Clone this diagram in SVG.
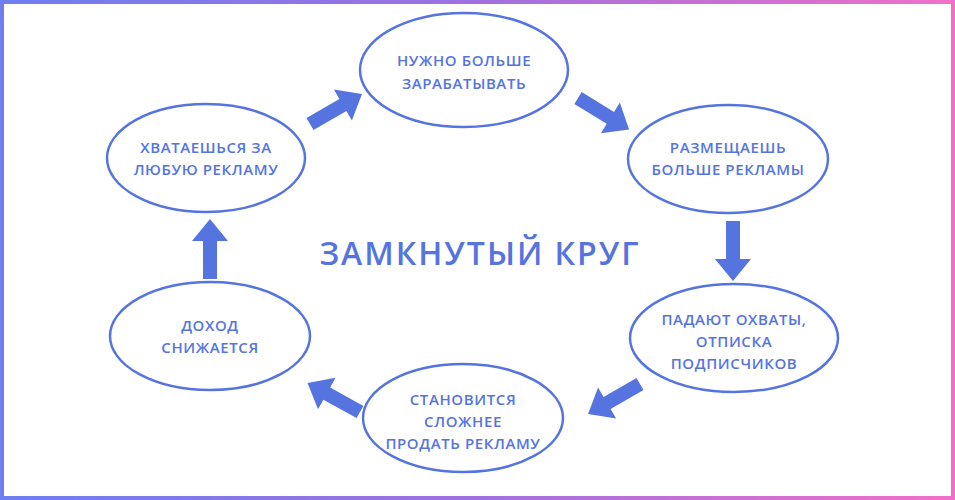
<svg xmlns="http://www.w3.org/2000/svg" width="955" height="500" viewBox="0 0 955 500">
<defs>
<linearGradient id="g" x1="0" y1="0" x2="1" y2="0"><stop offset="0" stop-color="#6f7ef0"/><stop offset="0.5" stop-color="#a070e0"/><stop offset="1" stop-color="#f070c8"/></linearGradient>
<path id="arr" d="M0,-7 H38 V-18 L60,0 L38,18 V7 H0 Z"/>
</defs>
<style>
.n{fill:#fff;stroke:#5574e0;stroke-width:2.5}
.t{font-family:"Open Sans","Liberation Sans",sans-serif;font-size:15px;letter-spacing:0.6px;fill:#5574e0;text-anchor:middle;font-weight:600}
.a{fill:#5574e0}
</style>
<rect x="2" y="2" width="951" height="496" fill="#fff" stroke="url(#g)" stroke-width="4"/>
<g id="c" class="a">
<use href="#arr" transform="translate(310,124) rotate(-30)"/>
<use href="#arr" transform="translate(578,98) rotate(31.6)"/>
<use href="#arr" transform="translate(733,221) rotate(90)"/>
<use href="#arr" transform="translate(640,384) rotate(150)"/>
<use href="#arr" transform="translate(360,412) rotate(209)"/>
<use href="#arr" transform="translate(210,279) rotate(-90)"/>
</g>
<g id="n1"><ellipse class="n" cx="464" cy="70" rx="104" ry="57"/><text class="t" x="464" y="66">НУЖНО БОЛЬШЕ</text><text class="t" x="464" y="89">ЗАРАБАТЫВАТЬ</text></g>
<g id="n2"><ellipse class="n" cx="728" cy="159" rx="100" ry="54"/><text class="t" x="728" y="153">РАЗМЕЩАЕШЬ</text><text class="t" x="728" y="175">БОЛЬШЕ РЕКЛАМЫ</text></g>
<g id="n3"><ellipse class="n" cx="734" cy="338" rx="104" ry="54"/><text class="t" x="734" y="325">ПАДАЮТ ОХВАТЫ,</text><text class="t" x="734" y="347">ОТПИСКА</text><text class="t" x="734" y="369">ПОДПИСЧИКОВ</text></g>
<g id="n4"><ellipse class="n" cx="463" cy="418" rx="100" ry="54"/><text class="t" x="463" y="405">СТАНОВИТСЯ</text><text class="t" x="463" y="427">СЛОЖНЕЕ</text><text class="t" x="463" y="449">ПРОДАТЬ РЕКЛАМУ</text></g>
<g id="n5"><ellipse class="n" cx="210" cy="336" rx="100" ry="54"/><text class="t" x="210" y="331">ДОХОД</text><text class="t" x="210" y="353">СНИЖАЕТСЯ</text></g>
<g id="n6"><ellipse class="n" cx="206" cy="158" rx="99" ry="54"/><text class="t" x="206" y="153">ХВАТАЕШЬСЯ ЗА</text><text class="t" x="206" y="175">ЛЮБУЮ РЕКЛАМУ</text></g>
<text x="480" y="265" font-family="'Open Sans','Liberation Sans',sans-serif" font-size="32" font-weight="600" letter-spacing="2" fill="#5574e0" text-anchor="middle">ЗАМКНУТЫЙ КРУГ</text>
</svg>
